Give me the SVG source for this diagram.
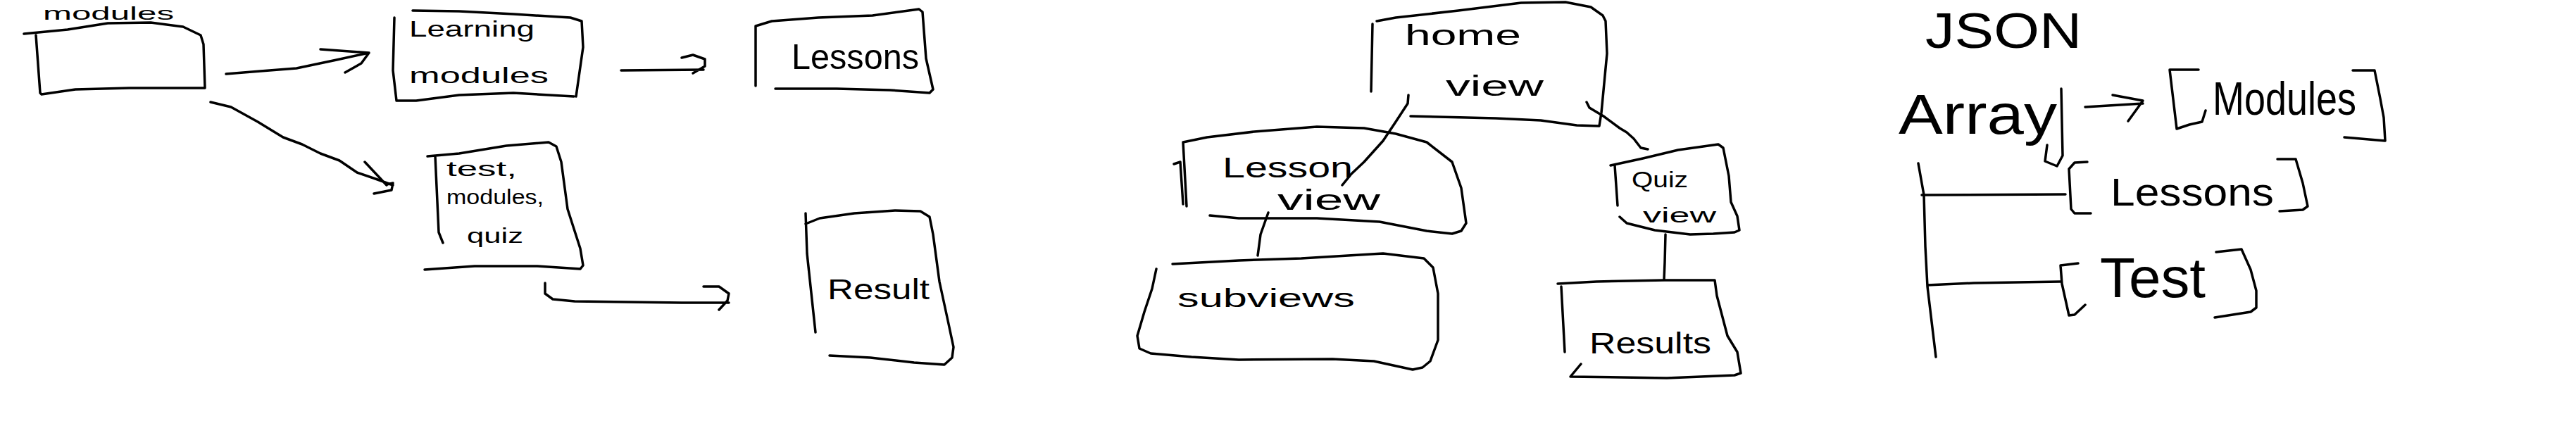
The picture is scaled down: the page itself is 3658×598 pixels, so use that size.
<svg xmlns="http://www.w3.org/2000/svg" width="3658" height="598" viewBox="0 0 3658 598">
<style>
.s{fill:none;stroke:#000;stroke-width:3.5;stroke-linecap:round;stroke-linejoin:round}
.t{font-family:"Liberation Sans","DejaVu Sans",sans-serif;fill:#000;lengthAdjust:spacingAndGlyphs}
</style>
<rect width="3658" height="598" fill="#fff"/>
<g id="node-modules">
<path class="s" d="M34,48 L96,42 L153,33 L214,32 L260,38 L285,50 L289,63 L291,125 M51,50 L57,132 L59,134 L107,127 L184,125 L291,125"/>
<text class="t" x="61" y="28" font-size="26" textLength="186" lengthAdjust="spacingAndGlyphs">modules</text>
</g>
<g id="node-learning-modules">
<path class="s" d="M586,15 L652,16 L729,20 L810,25 L826,30 L828,67 L818,137 M560,25 L558,100 L563,143 L591,143 L652,135 L729,132 L815,137"/>
<text class="t" x="581" y="52" font-size="32" textLength="178" lengthAdjust="spacingAndGlyphs">Learning</text>
<text class="t" x="581" y="118" font-size="32" textLength="198" lengthAdjust="spacingAndGlyphs">modules</text>
</g>
<g id="node-lessons">
<path class="s" d="M1073,122 L1073,37 L1096,30 L1162,25 L1239,22 L1305,13 L1310,17 L1315,83 L1325,127 L1320,132 L1264,128 L1188,126 L1101,126"/>
<text class="t" x="1124" y="98" font-size="50" textLength="181" lengthAdjust="spacingAndGlyphs">Lessons</text>
</g>
<g id="node-test">
<path class="s" d="M607,222 L652,218 L719,207 L779,202 L790,208 L797,230 L806,297 L824,353 L828,377 L824,382 L763,378 L674,378 L603,383 M618,222 L623,330 L629,345"/>
<text class="t" x="634" y="250" font-size="30" textLength="100" lengthAdjust="spacingAndGlyphs">test,</text>
<text class="t" x="634" y="290" font-size="30" textLength="138" lengthAdjust="spacingAndGlyphs">modules,</text>
<text class="t" x="663" y="345" font-size="30" textLength="80" lengthAdjust="spacingAndGlyphs">quiz</text>
</g>
<g id="node-result">
<path class="s" d="M1144,303 L1146,360 L1158,472 M1144,318 L1164,310 L1213,303 L1271,299 L1307,300 L1320,308 L1325,333 L1334,400 L1347,460 L1354,493 L1352,508 L1341,518 L1298,515 L1236,508 L1178,505"/>
<text class="t" x="1175" y="425" font-size="40" textLength="145" lengthAdjust="spacingAndGlyphs">Result</text>
</g>
<g id="node-home-view">
<path class="s" d="M1955,30 L1982,25 L2071,15 L2160,4 L2223,3 L2259,10 L2276,22 L2280,30 L2282,76 L2274,160 L2271,179 L2239,178 L2188,171 L2124,168 L2003,165 M1949,34 L1947,130"/>
<text class="t" x="1995" y="64" font-size="40" textLength="165" lengthAdjust="spacingAndGlyphs">home</text>
<text class="t" x="2053" y="136" font-size="40" textLength="139" lengthAdjust="spacingAndGlyphs">view</text>
</g>
<g id="node-lesson-view">
<path class="s" d="M1680,202 L1714,195 L1781,187 L1870,180 L1937,182 L1982,190 L2026,202 L2062,230 L2075,267 L2082,317 L2075,328 L2062,332 L2026,328 L1959,315 L1870,310 L1759,310 L1718,306 M1680,202 L1685,293 M1667,233 L1676,230 L1680,290"/>
<text class="t" x="1736" y="252" font-size="40" textLength="185" lengthAdjust="spacingAndGlyphs">Lesson</text>
<text class="t" x="1814" y="298" font-size="40" textLength="146" lengthAdjust="spacingAndGlyphs">view</text>
</g>
<g id="node-subviews">
<path class="s" d="M1665,375 L1759,370 L1848,367 L1964,360 L2022,367 L2035,380 L2042,417 L2042,483 L2031,513 L2020,522 L2006,525 L1951,513 L1892,510 L1759,511 L1692,507 L1634,502 L1618,495 L1615,477 L1625,443 L1636,410 L1642,382"/>
<text class="t" x="1672" y="436" font-size="36" textLength="252" lengthAdjust="spacingAndGlyphs">subviews</text>
</g>
<g id="node-quiz-view">
<path class="s" d="M2287,235 L2333,225 L2383,213 L2440,205 L2447,210 L2455,250 L2458,287 L2467,307 L2470,327 L2463,330 L2433,332 L2400,333 L2350,327 L2310,317 L2300,308 M2293,235 L2297,292"/>
<text class="t" x="2317" y="266" font-size="32" textLength="80" lengthAdjust="spacingAndGlyphs">Quiz</text>
<text class="t" x="2333" y="316" font-size="30" textLength="104" lengthAdjust="spacingAndGlyphs">view</text>
</g>
<g id="node-results">
<path class="s" d="M2212,403 L2267,400 L2363,398 L2435,398 L2438,420 L2453,477 L2467,500 L2472,530 L2463,533 L2367,537 L2230,535 L2245,517 M2217,407 L2222,500"/>
<text class="t" x="2257" y="502" font-size="42" textLength="173" lengthAdjust="spacingAndGlyphs">Results</text>
</g>
<g id="node-json">
<text class="t" x="2734" y="68" font-size="70" textLength="222" lengthAdjust="spacingAndGlyphs">JSON</text>
</g>
<g id="node-array">
<text class="t" x="2696" y="190" font-size="80" textLength="225" lengthAdjust="spacingAndGlyphs">Array</text>
</g>
<g id="node-json-modules">
<path class="s" d="M3122,99 L3081,99 L3091,183 L3109,177 L3127,173 L3132,157 M3341,100 L3372,100 L3380,140 L3385,167 L3387,200 L3329,195"/>
<text class="t" x="3142" y="163" font-size="66" textLength="204" lengthAdjust="spacingAndGlyphs">Modules</text>
</g>
<g id="node-json-lessons">
<path class="s" d="M2964,230 L2946,231 L2938,240 L2941,297 L2946,303 L2969,303 M3234,226 L3260,226 L3270,260 L3277,293 L3270,298 L3237,300"/>
<text class="t" x="2997" y="292" font-size="56" textLength="232" lengthAdjust="spacingAndGlyphs">Lessons</text>
</g>
<g id="node-json-test">
<path class="s" d="M2951,374 L2926,377 L2928,403 L2938,448 L2946,447 L2961,433 M3147,358 L3183,354 L3196,383 L3204,413 L3204,437 L3196,443 L3145,451"/>
<text class="t" x="2982" y="422" font-size="80" textLength="150" lengthAdjust="spacingAndGlyphs">Test</text>
</g>
<g id="connectors">
<path class="s" d="M321,105 L370,101 L421,97 L478,85 L524,75 M455,70 L524,75 L513,90 L490,103"/>
<path class="s" d="M882,100 L999,99 M968,82 L984,78 L1001,84 L1001,94 L984,104"/>
<path class="s" d="M299,145 L328,152 L366,173 L402,195 L429,205 L455,218 L482,228 L507,245 L536,255 L558,263 M518,230 L549,263 M549,262 L558,260 L556,270 L531,275"/>
<path class="s" d="M774,402 L774,417 L785,425 L816,428 L968,430 L1035,430 M999,407 L1021,407 L1035,417 L1033,427 L1021,440"/>
<path class="s" d="M2000,135 L1999,147 L1982,173 L1964,200 L1937,230 L1919,247 L1906,263"/>
<path class="s" d="M1801,302 L1790,333 L1786,363"/>
<path class="s" d="M2253,145 L2257,153 L2277,165 L2300,182 L2310,188 L2320,197 L2330,210 L2340,212"/>
<path class="s" d="M2365,333 L2364,373 L2363,397"/>
<path class="s" d="M2927,126 L2929,221 L2921,236 L2904,229 L2907,206"/>
<path class="s" d="M2961,152 L3043,147 M3000,135 L3043,143 L3022,172"/>
<path class="s" d="M2724,232 L2732,277 L2734,350 L2737,407 L2749,507 M2729,277 L2933,276 M2737,405 L2803,402 L2926,400"/>
</g>
</svg>
